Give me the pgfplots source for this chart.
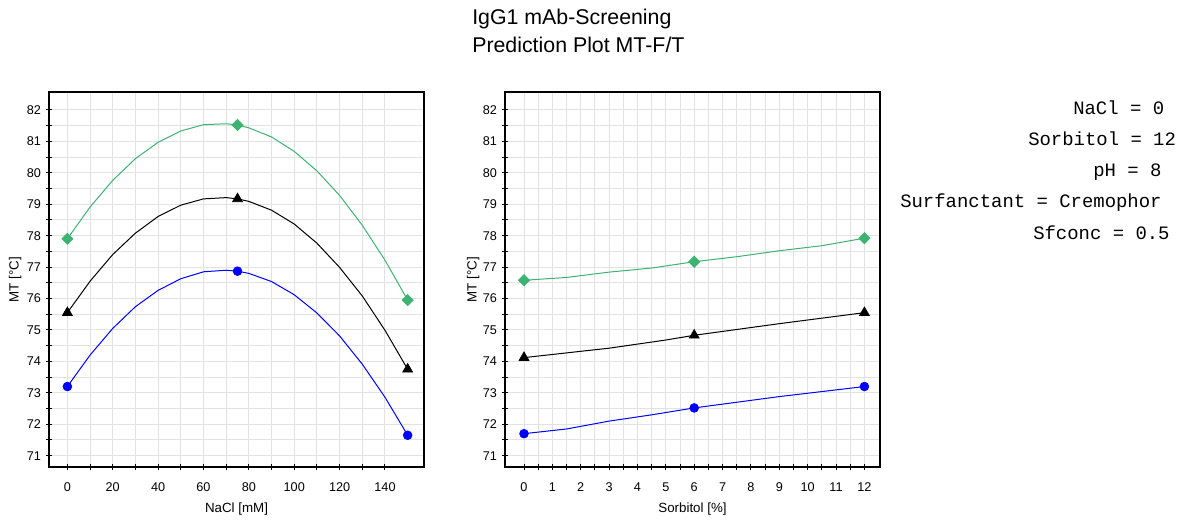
\documentclass[border=0pt]{standalone}
\usepackage{fontspec}
\setmainfont{Liberation Sans}
\newfontfamily\monofont{Liberation Mono}
\usepackage{pgfplots}
\pgfplotsset{compat=1.18}

\definecolor{mtgreen}{RGB}{60,179,113}
\definecolor{mtblue}{RGB}{0,0,255}
\definecolor{gridgray}{RGB}{226,226,226}

\pgfplotsset{
  mtaxis/.style={
    scale only axis,
    width=281.25pt, height=281.25pt,
    anchor=south west,
    ymin=70.64, ymax=82.57,
    ytick={71,72,...,82},
    minor tick num=1,
    grid=both,
    major grid style={gridgray, line width=0.75pt},
    minor grid style={gridgray, line width=0.75pt},
    axis line style={black, line width=0.9pt},
    tick style={black, line width=0.75pt},
    tick align=center,
    major tick length=5pt,
    minor tick length=5pt,
    xtick pos=bottom, ytick pos=left,
    /pgf/number format/assume math mode=true,
    tick label style={font=\fontsize{9.5}{11}\selectfont},
    xticklabel style={yshift=-6pt},
    label style={font=\fontsize{9.5}{11}\selectfont},
    every axis x label/.style={at={(axis description cs:0.5,-0.112)}, anchor=center},
    every axis y label/.style={at={(axis description cs:-0.09,0.5)}, rotate=90, anchor=center},
    ylabel={MT [°C]},
  },
  grn/.style={mtgreen, line width=0.75pt, mark=diamond*, mark options={solid, fill=mtgreen, draw=mtgreen, xscale=1.33, line width=0.5pt}, mark size=4.2pt},
  blk/.style={black, line width=0.75pt, mark=triangle*, mark options={solid, fill=black, line width=0.5pt}, mark size=4.3pt},
  blu/.style={mtblue, line width=0.75pt, mark=*, mark options={solid, fill=mtblue, draw=mtblue, line width=0.5pt}, mark size=3.3pt},
}

\begin{document}
\begin{tikzpicture}[x=0.75pt, y=0.75pt]
\path[use as bounding box] (0,0) rectangle (1189,519);
\coordinate (leftorigin) at (49,52);
\coordinate (rightorigin) at (505,52);

% left: NaCl
\begin{axis}[mtaxis,
  at={(leftorigin)},
  xmin=-8.1, xmax=157.2,
  xtick={0,20,...,140},
  xlabel={NaCl [mM]},
]
\addplot[grn, mark indices={1,9,17}] coordinates {
  (0,77.90) (10,78.91) (20,79.76) (30,80.45) (40,80.97) (50,81.33) (60,81.53) (70,81.56)
  (75,81.52) (80,81.43) (90,81.14) (100,80.68) (110,80.06) (120,79.28) (130,78.33) (140,77.22) (150,75.95)
};
\addplot[blk, mark indices={1,9,17}] coordinates {
  (0,75.55) (10,76.55) (20,77.40) (30,78.08) (40,78.61) (50,78.97) (60,79.17) (70,79.21)
  (75,79.17) (80,79.09) (90,78.81) (100,78.37) (110,77.76) (120,76.99) (130,76.08) (140,74.99) (150,73.75)
};
\addplot[blu, mark indices={1,9,17}] coordinates {
  (0,73.20) (10,74.20) (20,75.05) (30,75.74) (40,76.26) (50,76.63) (60,76.85) (70,76.90)
  (75,76.87) (80,76.80) (90,76.54) (100,76.12) (110,75.54) (120,74.81) (130,73.91) (140,72.86) (150,71.65)
};
\end{axis}

% right: Sorbitol
\begin{axis}[mtaxis,
  at={(rightorigin)},
  xmin=-0.67, xmax=12.55,
  xtick={0,1,...,12},
  xlabel={Sorbitol [\%]},
  every axis y label/.style={at={(axis description cs:-0.085,0.5)}, rotate=90, anchor=center},
]
\addplot[grn, mark indices={1,5,9}] coordinates {
  (0,76.58) (1.5,76.67) (3,76.84) (4.5,76.97) (6,77.17) (7.5,77.33) (9,77.52) (10.5,77.68) (12,77.92)
};
\addplot[blk, mark indices={1,4,6}] coordinates {
  (0,74.12) (3,74.42) (5,74.68) (6,74.83) (9,75.20) (12,75.55)
};
\addplot[blu, mark indices={1,5,7}] coordinates {
  (0,71.70) (1.5,71.85) (3,72.10) (4.5,72.30) (6,72.52) (9,72.88) (12,73.20)
};
\end{axis}

% title
\node[anchor=base west, inner sep=0pt, font=\fontsize{16}{19}\selectfont] at (472,494) {IgG1 mAb-Screening};
\node[anchor=base west, inner sep=0pt, font=\fontsize{16}{19}\selectfont] at (472,466) {Prediction Plot MT-F/T};

% factor settings
\begin{scope}[every node/.style={anchor=west, inner sep=0pt, font=\monofont\fontsize{14.2}{16}\selectfont}]
\node at (1073,411.5) {NaCl = 0};
\node at (1028,380) {Sorbitol = 12};
\node at (1093,347) {pH = 8};
\node at (900,316.5) {Surfanctant = Cremophor};
\node at (1033,286) {Sfconc = 0.5};
\end{scope}
\end{tikzpicture}
\end{document}
